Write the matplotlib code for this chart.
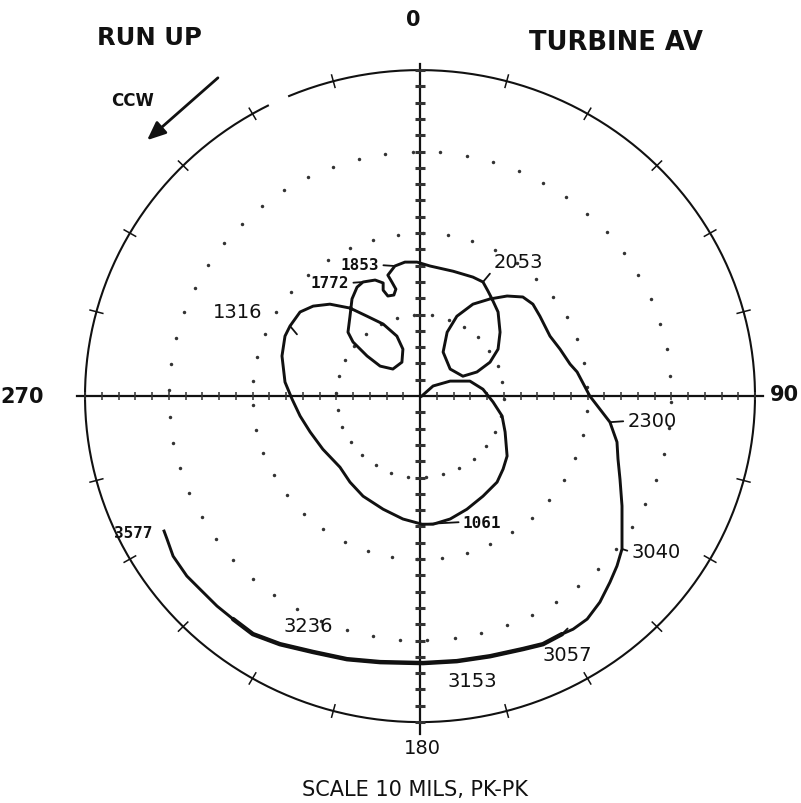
import numpy as np
import matplotlib
matplotlib.use("Agg")
import matplotlib.pyplot as plt
from matplotlib.collections import LineCollection

# ---------------- data (mils, horizontal / vertical vector components) ----------------
horiz_mils = [0.05, 0.39, 0.90, 1.49, 1.88, 2.18, 2.45, 2.54, 2.60, 2.48,
              2.30, 1.88, 1.40, 0.90, 0.39, 0.06, -0.51, -1.10, -1.70, -2.09,
              -2.39, -2.90, -3.28, -3.58, -3.82, -4.03, -4.12, -4.03, -3.88, -3.58,
              -3.19, -2.69, -2.09, -1.58, -1.10, -0.69, -0.51, -0.54, -0.81, -1.19,
              -1.58, -2.00, -2.15, -2.09, -2.03, -1.88, -1.70, -1.34, -1.10, -1.10,
              -0.96, -0.78, -0.72, -0.84, -0.96, -0.75, -0.45, -0.09, 0.30, 0.99,
              1.58, 1.88, 2.03, 2.15, 2.33, 2.39, 2.33, 2.09, 1.70, 1.28,
              0.90, 0.69, 0.81, 1.10, 1.58, 2.09, 2.60, 3.07, 3.37, 3.58,
              3.88, 4.18, 4.48, 4.69, 5.07, 5.37, 5.67, 5.88, 5.91, 5.97,
              6.03, 6.03, 6.03, 5.88, 5.67, 5.37, 4.99, 4.57, 4.24, 3.67,
              3.07, 2.09, 1.10, 0.09, -1.19, -2.18, -3.19, -4.18, -4.99, -5.58,
              -6.06, -6.57, -6.96, -7.37, -7.55, -7.64]
vert_mils = [0.00, 0.31, 0.46, 0.46, 0.21, -0.18, -0.61, -1.10, -1.84, -2.24,
             -2.64, -3.07, -3.47, -3.77, -3.93, -3.93, -3.77, -3.47, -3.07, -2.64,
             -2.18, -1.63, -1.10, -0.61, -0.09, 0.43, 1.23, 1.84, 2.15, 2.58,
             2.76, 2.82, 2.70, 2.45, 2.21, 1.84, 1.44, 1.04, 0.83, 0.92,
             1.23, 1.66, 1.96, 2.45, 2.98, 3.34, 3.50, 3.56, 3.47, 3.25,
             3.07, 3.10, 3.28, 3.50, 3.71, 3.99, 4.11, 4.11, 3.99, 3.83,
             3.65, 3.50, 3.22, 2.98, 2.58, 1.96, 1.44, 1.04, 0.74, 0.61,
             0.83, 1.35, 1.96, 2.45, 2.82, 2.98, 3.07, 3.04, 2.82, 2.45,
             1.84, 1.44, 0.98, 0.74, 0.00, -0.40, -0.80, -1.41, -1.93, -2.55,
             -3.37, -3.99, -4.69, -5.21, -5.71, -6.32, -6.84, -7.15, -7.30, -7.61,
             -7.76, -7.98, -8.13, -8.19, -8.16, -8.07, -7.85, -7.61, -7.30, -6.84,
             -6.44, -5.92, -5.52, -4.91, -4.39, -4.14]

rpm_labels = ["1061", "1316", "1772", "1853", "2053", "2300",
              "3040", "3057", "3153", "3236", "3577"]
rpm_point_index = [15, 28, 46, 55, 61, 86, 92, 98, 103, 107, 115]

angle_labels = ["0", "90", "180", "270"]
ring_values = [2.5, 5.0, 7.5]     # mils
full_scale = 10.0                 # mils
axis_tick_step = 0.5              # mils
title_left = "RUN UP"
title_right = "TURBINE AV"
scale_text = "SCALE 10 MILS, PK-PK"
direction_text = "CCW"

# ---------------- layout ----------------
W, H = 801, 804
fig = plt.figure(figsize=(W / 100, H / 100), dpi=100)
fig.patch.set_facecolor("white")
ax = fig.add_axes([0.0643, 0.0398, 0.9201, 0.9326])
ax.set_xlim(-11, 11)
ax.set_ylim(-11.5, 11.5)
ax.axis("off")

def fpos(px, py):
    return px / W, 1 - py / H

ink = "#111111"

# outer circle (with a small gap at upper left), theta clockwise from north
t1 = np.radians(np.linspace(-23, 333, 600))
ax.plot(full_scale * np.sin(t1), full_scale * np.cos(t1), color=ink, lw=1.5)

# ticks on outer circle every 15 deg
segs = []
for a in np.arange(15, 360, 15):
    if a % 90 == 0:
        continue
    t = np.radians(a)
    segs.append([(9.78 * np.sin(t), 9.78 * np.cos(t)),
                 (10.22 * np.sin(t), 10.22 * np.cos(t))])
ax.add_collection(LineCollection(segs, colors=ink, lw=1.1))

# dotted rings
for r, n, off in zip(ring_values, [30, 42, 58], [8.0, 1.0, 4.5]):
    t = np.radians(off + np.arange(n) * 360.0 / n)
    ax.plot(r * np.sin(t), r * np.cos(t), ls="none", marker="o",
            ms=2.5, color="#333333", mec="none")

# cross-hair axes
ax.plot([0, 0], [-10.35, 10.2], color=ink, lw=1.6)
ax.plot([-10.25, 10.25], [0, 0], color=ink, lw=1.6)
tk = np.arange(axis_tick_step, full_scale + 0.01, axis_tick_step)
tk = np.concatenate([-tk[::-1], tk])
ax.plot(np.zeros_like(tk), tk, ls="none", marker="_", ms=7, mew=2.2, color="#333333")
ax.plot(tk, np.zeros_like(tk), ls="none", marker="|", ms=6, mew=1.1, color="#333333")

# polar response curve
ax.plot(horiz_mils, vert_mils, color=ink, lw=2.1, solid_joinstyle="round")
ax.plot(horiz_mils[98:110], vert_mils[98:110], color=ink, lw=3.2,
        solid_capstyle="round")

# rpm labels (pixel layout)
label_pos = {"1061": (482, 523, "mono", (0, 0.5)),
             "1316": (238, 313, "sans", None),
             "1772": (330, 284, "mono", (1, 0.5)),
             "1853": (360, 266, "mono", (1, 0.5)),
             "2053": (518, 263, "sans", None),
             "2300": (652, 422, "sans", (0, 0.5)),
             "3040": (656, 553, "sans", (0, 0.5)),
             "3057": (567, 656, "sans", None),
             "3153": (472, 682, "sans", None),
             "3236": (308, 627, "sans", None),
             "3577": (133, 534, "mono", None)}
for lab, idx in zip(rpm_labels, rpm_point_index):
    px, py, kind, rel = label_pos[lab]
    if kind == "mono":
        kw = dict(family="DejaVu Sans Mono", fontsize=11.5, fontweight="bold")
    else:
        kw = dict(family="DejaVu Sans", fontsize=14)
    if rel is not None:
        ax.annotate(lab, xy=(horiz_mils[idx], vert_mils[idx]),
                    xytext=fpos(px, py), textcoords="figure fraction",
                    ha="center", va="center", color=ink,
                    arrowprops=dict(arrowstyle="-", lw=1.3, color=ink,
                                    shrinkA=1, shrinkB=0, relpos=rel), **kw)
    else:
        ax.annotate(lab, xy=fpos(px, py), xycoords="figure fraction",
                    ha="center", va="center", color=ink, **kw)

# small ticks crossing the curve at some speeds
for idx, (dx, dy) in zip([28, 61, 98], [(5, -6), (5, 6), (4, 4)]):
    ax.annotate("", xy=(horiz_mils[idx], vert_mils[idx]),
                xytext=(dx, dy), textcoords="offset points",
                arrowprops=dict(arrowstyle="-", lw=1.3, color=ink,
                                shrinkA=0, shrinkB=0))

# angle labels
ang_pos = {"0": (413, 20), "90": (784, 395), "180": (422, 749), "270": (22, 397)}
for lab in angle_labels:
    px, py = ang_pos[lab]
    fig.text(*fpos(px, py), lab, ha="center", va="center", color=ink,
             family="DejaVu Sans",
             fontsize=15 if lab != "180" else 14,
             fontweight="bold" if lab != "180" else "normal")

fig.text(*fpos(149, 38), title_left, ha="center", va="center", color=ink,
         family="DejaVu Sans", fontsize=17.5, fontweight="bold")
fig.text(*fpos(616, 43), title_right, ha="center", va="center", color=ink,
         family="DejaVu Sans", fontsize=18.5, fontweight="bold")
fig.text(*fpos(415, 790), scale_text, ha="center", va="center", color=ink,
         family="DejaVu Sans", fontsize=15)
fig.text(*fpos(133, 101), direction_text, ha="center", va="center", color=ink,
         family="DejaVu Sans", fontsize=12, fontweight="bold")
fig.add_artist(plt.matplotlib.patches.FancyArrowPatch(
    fpos(220, 77), fpos(145, 143), transform=fig.transFigure,
    arrowstyle="-|>,head_length=7,head_width=3", lw=2.0, color=ink,
    mutation_scale=1.6))

fig.savefig("out.png", dpi=100, facecolor="white")
